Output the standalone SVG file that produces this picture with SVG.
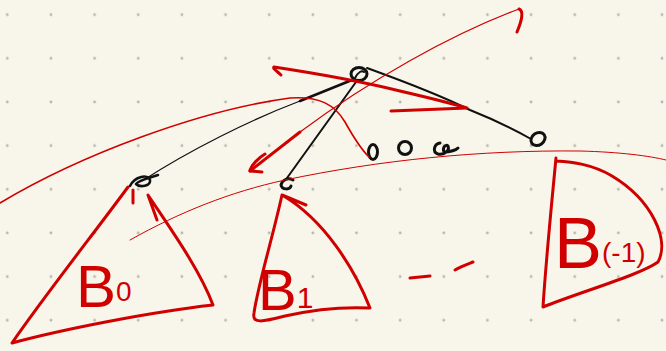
<svg xmlns="http://www.w3.org/2000/svg" width="666" height="351" viewBox="0 0 666 351">
<defs>
<pattern id="grid" x="7.3" y="14.7" width="43.65" height="43.65" patternUnits="userSpaceOnUse">
<circle cx="0" cy="0" r="1.4" fill="#b9b6ad"/>
<circle cx="43.65" cy="0" r="1.4" fill="#b9b6ad"/>
<circle cx="0" cy="43.65" r="1.4" fill="#b9b6ad"/>
<circle cx="43.65" cy="43.65" r="1.4" fill="#b9b6ad"/>
</pattern>
<style>
.bk{fill:none;stroke:#111;stroke-linecap:round;stroke-linejoin:round}
.rd{fill:none;stroke:#d00000;stroke-linecap:round;stroke-linejoin:round}
.thick{stroke-width:3}
.thin{stroke-width:1}
.lbl{fill:#d00000;font-family:"Liberation Sans",Arial,sans-serif}
</style>
</defs>
<rect width="666" height="351" fill="#f8f6eb"/>
<rect width="666" height="351" fill="url(#grid)"/>

<g id="connectors">
<path class="bk" stroke-width="2.6" d="M352,80 L300,101"/>
<path class="bk" stroke-width="1.2" d="M300,101 C250,120 190,150 142,181"/>
<path class="bk" stroke-width="2" d="M356,82 L287,178"/>
<path class="bk" stroke-width="2" d="M367,68 C400,80 440,95 470,110 C495,120 515,130 531,139"/>
</g>

<g id="root">
<ellipse class="bk" stroke-width="3" cx="359" cy="74" rx="8" ry="6.5"/>
<path class="bk" stroke-width="2" d="M355,78 C358,72 362,70 364,72"/>
</g>
<g id="child0">
<path class="bk" stroke-width="2.6" d="M130,186 C135,176 148,174 150,180 C151,186 140,188 136,184 C140,179 150,178 158,175"/>
</g>
<g id="child1">
<path class="bk" stroke-width="3" d="M293,180 C288,177 282,180 281,185 C282,190 290,190 291,186"/>
</g>
<g id="childLast">
<ellipse class="bk" stroke-width="3" cx="538" cy="139" rx="7.5" ry="6" transform="rotate(-35 538 139)"/>
</g>
<g id="ellipsis">
<ellipse class="bk" stroke-width="3" cx="373" cy="152" rx="4.5" ry="7.5"/>
<ellipse class="bk" stroke-width="3" cx="405" cy="148" rx="6.5" ry="6.5"/>
<path class="bk" stroke-width="3" d="M440,143 C434,144 432,152 438,154 C444,155 450,151 448,146 C446,144 442,147 444,152 C450,152 456,150 458,148"/>
</g>

<g id="annotations">
<path class="rd" stroke-width="1.6" d="M0,203 C80,155 200,110 290,98 C320,96 335,105 345,122 C355,140 362,150 369,157"/>
<path class="rd thin" d="M130,240 C180,212 230,192 285,180 C380,160 480,150 580,151 C620,152 650,156 666,160"/>
<path class="rd thick" d="M250,171 L300,132"/>
<path class="rd" stroke-width="1.2" d="M300,132 C370,80 450,35 519,9"/>
<path class="rd thick" d="M519,9 C524,11 522,20 517,32"/>
<path class="rd thick" d="M250,171 L262,172 M250,170 C252,165 258,158 265,154"/>
<path class="rd thick" d="M274,67 C272,68 278,72 281,75 M274,67 C320,74 360,81 400,91 C430,98 450,103 467,108 L391,111"/>
<path class="rd thick" d="M410,278 L430,276 M455,270 C460,267 468,264 473,262"/>
</g>

<g id="B0">
<path class="rd thick" d="M128,187 C95,232 45,295 12,343 C60,330 150,312 213,305 C200,270 170,228 148,195 L157,220"/>
<path class="rd thick" d="M133,190 L133,203"/>
<text class="lbl" x="76" y="307" font-size="60">B<tspan font-size="28" dy="-6">0</tspan></text>
</g>
<g id="B1">
<path class="rd thick" d="M282,195 C272,240 258,285 254,313 C252,324 262,322 285,316 C320,308 350,307 370,308 C355,270 325,220 282,195 L306,205"/>
<text class="lbl" x="258" y="310" font-size="58">B<tspan font-size="30" dy="-2">1</tspan></text>
</g>
<g id="BLast">
<path class="rd thick" d="M556,158 C551,210 546,260 543,307 C580,292 640,275 658,262 C670,240 652,200 612,176 C592,164 572,162 556,161"/>
<text class="lbl" x="554" y="268" font-size="72">B<tspan font-size="28" dy="-6">(-1)</tspan></text>
</g>
</svg>
